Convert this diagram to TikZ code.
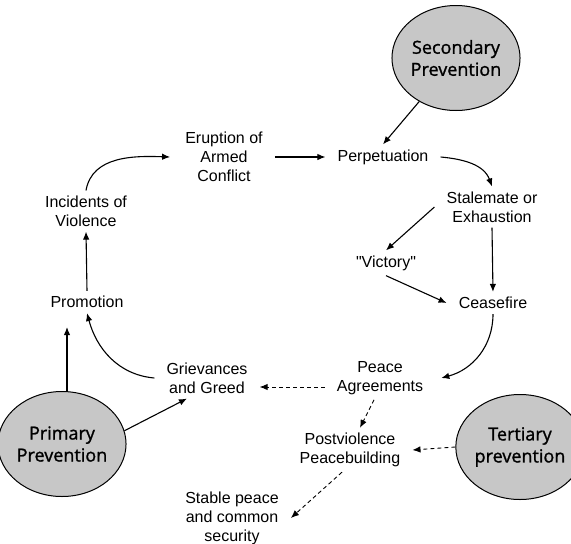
\documentclass[tikz,border=0pt]{standalone}
\usepackage{fontspec}
\setmainfont{Liberation Sans}[Ligatures=TeXOff]
\newfontfamily\ovalfont{Open Sans}[FakeBold=1.2]
\usetikzlibrary{arrows.meta,shapes.geometric}

\begin{document}
\begin{tikzpicture}[x=1pt,y=-1pt,
    stage/.style={align=center,inner xsep=12pt,inner ysep=5pt,
      font=\fontsize{16}{19}\selectfont},
    prevent/.style={ellipse,draw,line width=1pt,fill=black!22,
      minimum width=115pt,minimum height=105pt,inner sep=0pt,align=center,
      font=\ovalfont\fontsize{18}{22}\selectfont},
    flow/.style={-{Latex[length=8pt,width=6.5pt]},line width=1.1pt},
    weak/.style={flow,dash pattern=on 4pt off 3pt,line width=0.9pt}]
  \useasboundingbox (0,0) rectangle (571,544);
  % Prevention ovals
  \node[prevent] (second) at (456,58) {Secondary\\Prevention};
  \node[prevent] (prim) at (62,444) {Primary\\Prevention};
  \node[prevent] (tert) at (520,447) {Tertiary\\prevention};
  % Stages of the conflict cycle
  \node[stage] (erupt) at (224,157) {Eruption of\\Armed\\Conflict};
  \node[stage] (perp) at (383,157) {Perpetuation};
  \node[stage] (stal) at (492,207) {Stalemate or\\Exhaustion};
  \node[stage] (vict) at (386,263) {"Victory"};
  \node[stage] (cease) at (493,303) {Ceasefire};
  \node[stage] (peace) at (380,378) {Peace\\Agreements};
  \node[stage] (post) at (350,450) {Postviolence\\Peacebuilding};
  \node[stage] (stable) at (232,518) {Stable peace\\and common\\security};
  \node[stage] (griev) at (207,378) {Grievances\\and Greed};
  \node[stage] (promo) at (87,302) {Promotion};
  \node[stage] (incid) at (86,211) {Incidents of\\Violence};
  % Connectors
  \draw[flow] (incid.north) to[out=80,in=178] ([xshift=-3pt]erupt.west);
  \draw[flow] (erupt.east) -- (perp.west);
  \draw[flow] (second) -- (perp.north);
  \draw[flow] (perp.east) to[out=-5,in=110] (stal.north);
  \draw[flow] (stal.west) -- (vict.north);
  \draw[flow] (stal.south) -- (cease.north);
  \draw[flow] (vict.south) -- (cease.west);
  \draw[flow] (cease.south) to[out=-90,in=15] ([xshift=6pt]peace.east);
  \draw[weak] ([yshift=-9pt]peace.west) -- ([yshift=-9pt]griev.east);
  \draw[weak] ([xshift=-6pt]peace.south) -- ([xshift=10pt]post.north);
  \draw[weak] (tert.west) -- (post.east);
  \draw[weak] ([xshift=-8pt]post.south) -- (stable.east);
  \draw[flow] (griev.west) to[out=175,in=-75] (promo.south);
  \draw[flow] ([xshift=5pt]prim.north) -- ([xshift=-20pt,yshift=-14pt]promo.south);
  \draw[flow] (promo.north) -- (incid.south);
  \draw[flow] (prim.12) -- ([xshift=-20pt]griev.south);
\end{tikzpicture}
\end{document}
